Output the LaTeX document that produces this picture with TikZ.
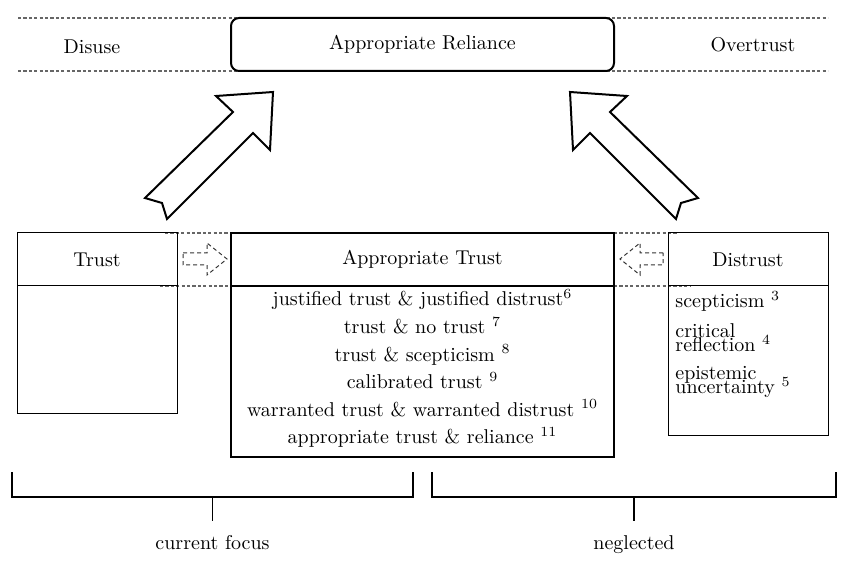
\documentclass[tikz,border=0pt]{standalone}
\usetikzlibrary{positioning}
\newcommand{\pxu}{0.5pt}
\tikzset{
  thinbox/.style={draw, rectangle, inner sep=0pt, line width=0.5pt},
  thickbox/.style={draw, rectangle, inner sep=0pt, line width=1pt},
  guide/.style={black!60, line width=0.6pt, dash pattern=on 1.6pt off 1.1pt},
  smallarrow/.style={black!80, line width=0.5pt, dash pattern=on 2pt off 1.5pt},
  bigarrow/.style={draw, fill=white, line width=1pt, line join=miter},
  bracket/.style={line width=1pt},
  item/.style={anchor=base west, inner sep=0pt}
}

\begin{document}
\begin{tikzpicture}[x=0.5pt,y=-0.5pt]
\useasboundingbox (0,0) rectangle (850,566);

\draw[guide] (18,18) -- (828,18);
\draw[guide] (18,71) -- (828,71);
\node[thickbox, fill=white, rounded corners=4pt, minimum width=383*\pxu, minimum height=53*\pxu] (reliance) at (422.5,44.5) {Appropriate Reliance};
\node (disuse) at (92,47) {Disuse};
\node (overtrust) at (753,45) {Overtrust};

\draw[bigarrow] (145,198) -- (162,203) -- (167,219) -- (253,133) -- (270,150) -- (273,92) -- (216,96) -- (233,112) -- cycle;
\draw[bigarrow] (698,198) -- (681,203) -- (676,219) -- (590,133) -- (573,150) -- (570,92) -- (627,96) -- (610,112) -- cycle;

\draw[guide] (165,233) -- (231,233);
\draw[guide] (160,286) -- (231,286);
\draw[guide] (614,233) -- (678,233);
\draw[guide] (614,286) -- (690,286);

\node[thinbox, minimum width=160*\pxu, minimum height=53*\pxu] (trusthead) at (97,259.5) {Trust};
\node[thinbox, minimum width=160*\pxu, minimum height=127*\pxu] (trustbody) at (97,349.5) {};
\node[thickbox, minimum width=383*\pxu, minimum height=171*\pxu] (atbody) at (422.5,371.5) {};
\node[thickbox, minimum width=383*\pxu, minimum height=53*\pxu] (athead) at (422.5,259.5) {Appropriate Trust};
\node[thinbox, minimum width=160*\pxu, minimum height=53*\pxu] (dthead) at (748,259.5) {Distrust};
\node[thinbox, minimum width=160*\pxu, minimum height=149*\pxu] (dtbody) at (748,360.5) {};

\draw[smallarrow] (183,253) -- (207,253) -- (207,243) -- (227,259) -- (207,275) -- (207,265) -- (183,265) -- cycle;
\draw[smallarrow] (663,253) -- (640,253) -- (640,243) -- (620,259) -- (640,275) -- (640,265) -- (663,265) -- cycle;

\foreach \txt [count=\i] in {{justified trust \& justified distrust$^{6}$},
    {trust \& no trust $^{7}$},
    {trust \& scepticism $^{8}$},
    {calibrated trust $^{9}$},
    {warranted trust \& warranted distrust $^{10}$},
    {appropriate trust \& reliance $^{11}$}}
  \node[anchor=base, inner sep=0pt] (at\i) at (422.5,{278.5+27.5*\i}) {\txt};

\node[item] (scep) at (675,307.7) {scepticism $^{3}$};
\node[item] (crit) at (675,337.7) {critical};
\node[item] (refl) at (675,351.7) {reflection $^{4}$};
\node[item] (epis) at (675,379.3) {epistemic};
\node[item] (unc) at (675,393.7) {uncertainty $^{5}$};

\draw[bracket] (12,472) -- (12,497) -- coordinate[pos=0.5] (focusmid) (413,497) -- (413,472);
\draw[bracket] (432,472) -- (432,497) -- coordinate[pos=0.5] (neglectmid) (836,497) -- (836,472);
\node[anchor=base] (focus) at (212.5,549) {current focus};
\node[anchor=base] (neglect) at (634,549) {neglected};
\draw[line width=0.6pt] (focusmid) -- ([yshift=3.5pt]focus.north);
\draw[line width=0.6pt] (neglectmid) -- ([yshift=3.5pt]neglect.north);
\end{tikzpicture}
\end{document}
